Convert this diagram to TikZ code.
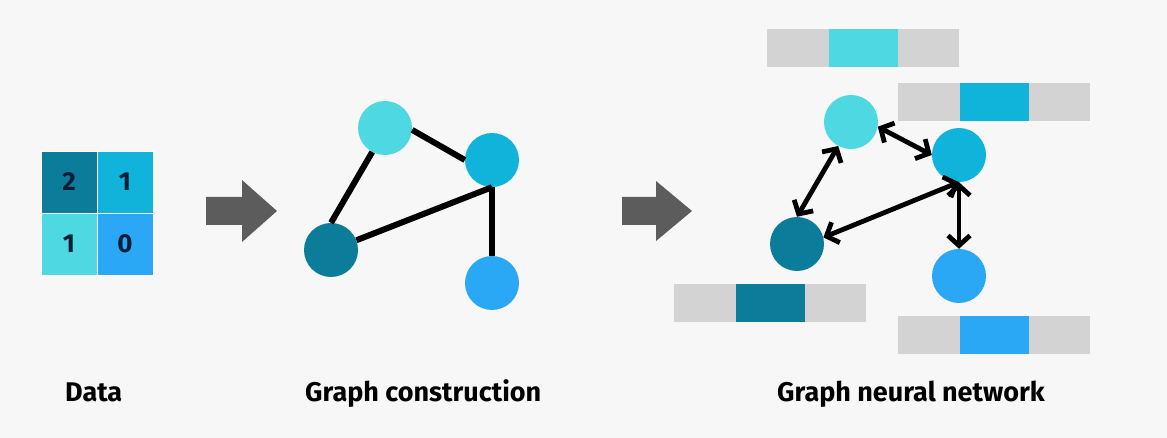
\documentclass[tikz,border=0pt]{standalone}
\usepackage{fontspec}
\setmainfont{Fira Sans}
\usetikzlibrary{arrows.meta}
\definecolor{bg}{HTML}{F7F7F7}
\definecolor{cdark}{HTML}{0B7D9B}
\definecolor{cmid}{HTML}{10B4DA}
\definecolor{clight}{HTML}{4DD8E2}
\definecolor{cblue}{HTML}{2BA8F5}
\definecolor{bargray}{HTML}{D3D3D3}
\definecolor{arrgray}{HTML}{5C5C5C}
\definecolor{navy}{HTML}{0B1C36}
\tikzset{
  gnode/.style={circle,minimum size=54pt,inner sep=0pt,draw=none},
  edge/.style={line width=6pt,black},
  biarrow/.style={line width=4.8pt,black,{Straight Barb[length=10pt,width=22pt,line width=4.8pt]}-{Straight Barb[length=10pt,width=22pt,line width=4.8pt]}},
  cell/.style={minimum width=56pt,minimum height=62pt,inner sep=0pt,draw=white,line width=0.6pt,font=\bfseries\fontsize{26}{26}\selectfont,text=navy},
  label/.style={anchor=base west,font=\bfseries\fontsize{27}{27}\selectfont,text=black,inner sep=0pt},
  barseg/.style={minimum width=64pt,minimum height=38pt,inner sep=0pt,draw=none},
  blockarrow/.style={fill=arrgray,draw=none}
}
\begin{document}
\begin{tikzpicture}[x=1pt,y=-1pt]
\fill[bg] (0,0) rectangle (1167,438);
\useasboundingbox (0,0) rectangle (1167,438);

% Data grid
\node[cell,fill=cdark]  (c11) at (69,182) {2};
\node[cell,fill=cmid]   (c12) at (125,182) {1};
\node[cell,fill=clight] (c21) at (69,244) {1};
\node[cell,fill=cblue]  (c22) at (125,244) {0};

% block arrows
\fill[blockarrow] (206,197) -- (242,197) -- (242,180) -- (277,211) -- (242,242) -- (242,225) -- (206,225) -- cycle;
\fill[blockarrow] (622,197) -- (656,197) -- (656,181) -- (692,211) -- (656,241) -- (656,225) -- (622,225) -- cycle;

% Graph construction
\node[gnode,fill=clight] (t2) at (385,128) {};
\node[gnode,fill=cmid]   (r2) at (492,160) {};
\node[gnode,fill=cdark]  (l2) at (331,250) {};
\node[gnode,fill=cblue]  (b2) at (492,283) {};
\draw[edge] (t2.-118) -- (l2.north);
\draw[edge] (t2.-4) -- (r2.west);
\draw[edge] (l2.21) -- (r2.south);
\draw[edge] (r2.south) -- (b2.north);

% GNN bars
\foreach \n/\x/\y/\c in {bt/863/48/clight, br/994/102/cmid, bl/770/303/cdark, bb/994/335/cblue}{
  \node[barseg,fill=bargray,minimum width=192pt] (\n) at (\x,\y) {};
  \node[barseg,fill=\c,minimum width=69pt] (\n c) at (\x,\y) {};
}

% GNN nodes
\node[gnode,fill=clight] (t) at (851,122) {};
\node[gnode,fill=cmid]   (r) at (959,155) {};
\node[gnode,fill=cdark]  (l) at (797,244) {};
\node[gnode,fill=cblue]  (b) at (959,276) {};
\draw[biarrow] (t.-10) -- (r.180);
\draw[biarrow] (t.-118) -- (l.north);
\draw[biarrow] (l.14) -- (r.south);
\draw[biarrow] (r.south) -- (b.north);

% labels
\node[label] (lab1) at (65,401) {Data};
\node[label] (lab2) at (305,401) {Graph construction};
\node[label] (lab3) at (777,401) {Graph neural network};
\end{tikzpicture}
\end{document}
